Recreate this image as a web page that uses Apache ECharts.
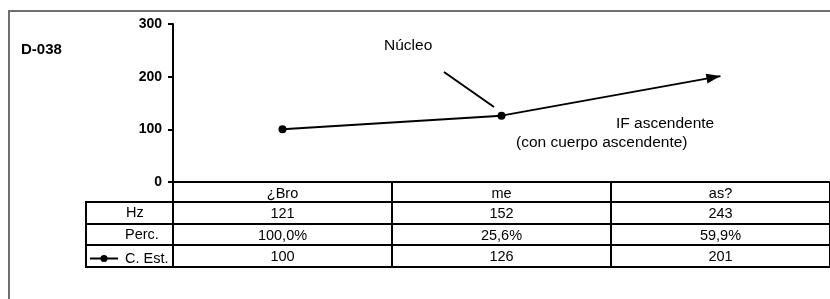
<!DOCTYPE html>
<html><head><meta charset="utf-8">
<script src="https://cdn.jsdelivr.net/npm/echarts@6/dist/echarts.min.js"></script>
<style>html,body{margin:0;padding:0;background:#fff}#c{width:830px;height:299px}</style>
</head><body><div id="c"></div>
<script>
const categories = ['¿Bro', 'me', 'as?'];
const hzValues = ['121', '152', '243'];
const percValues = ['100,0%', '25,6%', '59,9%'];
const cEstValues = [100, 126, 201];
const rowLabels = ['Hz', 'Perc.', 'C. Est.'];
const yMin = 0, yMax = 300, yStep = 100;

const FONT = '"Liberation Sans", Arial, sans-serif';
const chart = echarts.init(document.getElementById('c'), null, {renderer: 'canvas'});

function rowAxis(data, offset, tickLen, showLabel) {
  return {
    type: 'category', data: data, boundaryGap: true, position: 'bottom', offset: offset,
    axisLine: {show: true, lineStyle: {color: '#000', width: 2}},
    axisTick: {show: tickLen > 0, interval: 0, length: tickLen, lineStyle: {color: '#000', width: 2}},
    axisLabel: {show: showLabel, interval: 0, margin: 4, color: '#000', fontSize: 14.5, fontFamily: FONT},
    splitLine: {show: false}
  };
}

const seriesData = cEstValues.map((v, i) => i === cEstValues.length - 1 ? {
  value: v,
  symbol: 'path://M0,0L14,5L0,10Z',
  symbolSize: [14, 10],
  symbolRotate: 10,
  symbolOffset: [-7, 1.2]
} : v);

const txt = (x, y, t, extra) => ({
  type: 'text', x: x, y: y,
  style: Object.assign({text: t, fill: '#000', font: '14.5px ' + FONT, verticalAlign: 'middle', align: 'left'}, extra || {})
});
const ln = (x1, y1, x2, y2) => ({
  type: 'line', shape: {x1: x1, y1: y1, x2: x2, y2: y2},
  style: {stroke: '#000', lineWidth: 2}
});
const ANN = '15.5px ' + FONT;

chart.setOption({
  animation: false,
  grid: {left: 173, top: 24, width: 658.5, bottom: 117, containLabel: false},
  xAxis: [
    rowAxis(categories, 0, 20, true),
    rowAxis(hzValues, 20, 22, true),
    rowAxis(percValues, 42, 21, true),
    rowAxis(cEstValues.map(String), 63, 22, true),
    rowAxis(categories, 85, 0, false)
  ],
  yAxis: {
    type: 'value', min: yMin, max: yMax, interval: yStep,
    axisLine: {show: true, lineStyle: {color: '#000', width: 2}},
    axisTick: {show: true, length: 5, lineStyle: {color: '#000', width: 2}},
    axisLabel: {margin: 11, color: '#000', fontSize: 14, fontWeight: 'bold', fontFamily: FONT},
    splitLine: {show: false}
  },
  legend: {
    data: ['C. Est.'], left: 89, top: 251, padding: 0, itemWidth: 28, itemHeight: 9,
    selectedMode: false, textStyle: {fontSize: 14.5, color: '#000', fontFamily: FONT, padding: [0, 0, 0, 2]}
  },
  series: [{
    name: 'C. Est.', type: 'line', data: seriesData, xAxisIndex: 0,
    symbol: 'circle', symbolSize: 8,
    lineStyle: {color: '#000', width: 2},
    itemStyle: {color: '#000'}
  }],
  graphic: [
    {type: 'rect', shape: {x: 9, y: 11, width: 900, height: 400}, style: {fill: 'none', stroke: '#6e6e6e', lineWidth: 2}, silent: true},
    ln(86, 202, 174, 202), ln(86, 224, 174, 224), ln(86, 245, 174, 245), ln(86, 267, 174, 267),
    ln(86, 201, 86, 268),
    txt(126, 213, rowLabels[0]),
    txt(125, 234.5, rowLabels[1]),
    txt(21, 50, 'D-038', {font: 'bold 15px ' + FONT}),
    txt(384, 46, 'Núcleo', {font: ANN}),
    ln(444, 72, 494, 107),
    txt(616, 124, 'IF ascendente', {font: ANN}),
    txt(516, 143, '(con cuerpo ascendente)', {font: ANN})
  ]
});
</script></body></html>
